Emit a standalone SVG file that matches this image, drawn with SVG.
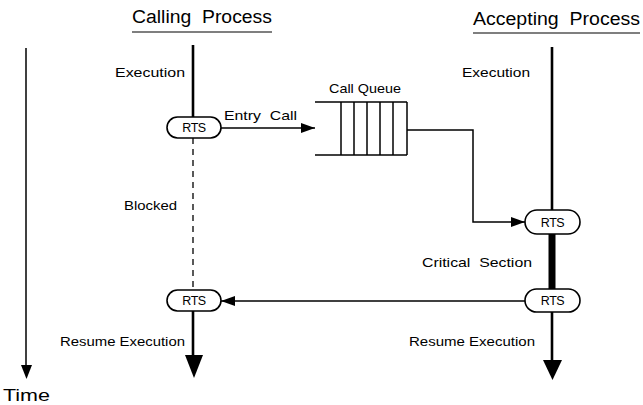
<svg xmlns="http://www.w3.org/2000/svg" width="643" height="405" viewBox="0 0 643 405">
  <defs>
    <style>
      text { font-family: "Liberation Sans", Arial, sans-serif; fill: #000; white-space: pre; }
      .title { font-size: 18px; }
      .lbl { font-size: 13px; }
      .rts { font-size: 12.5px; text-anchor: middle; letter-spacing: -0.5px; }
      .pill { fill: #fff; stroke: #000; stroke-width: 1.6; }
      .thin { fill: none; stroke: #000; stroke-width: 1.5; }
      .life { fill: none; stroke: #000; stroke-width: 2.6; }
      .head { fill: #000; stroke: none; }
    </style>
    <marker id="arrow" viewBox="0 0 14 10" refX="14" refY="5" markerWidth="14" markerHeight="10" markerUnits="userSpaceOnUse" orient="auto">
      <path class="head" d="M0,0 L14,5 L0,10 Z"/>
    </marker>
  </defs>

  <rect width="643" height="405" fill="#fff"/>

  <!-- Process headings -->
  <g id="heading-calling">
    <text class="title" x="132" y="23" textLength="140" lengthAdjust="spacingAndGlyphs" xml:space="preserve">Calling  Process</text>
    <line x1="132" y1="32" x2="272" y2="32" stroke="#000" stroke-width="1.2"/>
  </g>
  <g id="heading-accepting">
    <text class="title" x="473" y="25" textLength="167" lengthAdjust="spacingAndGlyphs" xml:space="preserve">Accepting  Process</text>
    <line x1="473" y1="33" x2="640" y2="33" stroke="#000" stroke-width="1.2"/>
  </g>

  <!-- Time axis -->
  <g id="time-axis">
    <line x1="26" y1="48" x2="26" y2="366" stroke="#000" stroke-width="1.5"/>
    <path class="head" d="M21,365 L32,365 L26.5,379 Z"/>
    <text x="3" y="401" font-size="17" textLength="47" lengthAdjust="spacingAndGlyphs">Time</text>
  </g>

  <!-- Connectors: lifelines and messages -->
  <g id="connectors">
    <!-- calling process lifeline -->
    <line class="life" x1="193" y1="45" x2="193" y2="118"/>
    <line x1="193" y1="138" x2="193" y2="290" stroke="#000" stroke-width="1.3" stroke-dasharray="6,5"/>
    <line class="life" x1="193" y1="311" x2="193" y2="357"/>
    <path class="head" d="M185,355 L203,355 L194,378 Z"/>

    <!-- accepting process lifeline -->
    <line class="life" x1="552" y1="47" x2="552" y2="210"/>
    <line x1="552" y1="234" x2="552" y2="289" stroke="#000" stroke-width="7"/>
    <line class="life" x1="552" y1="312" x2="552" y2="362"/>
    <path class="head" d="M543,360 L562,360 L552.5,380 Z"/>

    <!-- entry call into the queue -->
    <line class="thin" x1="221" y1="128" x2="315" y2="128" marker-end="url(#arrow)"/>
    <!-- queue output to the accepting RTS -->
    <polyline class="thin" points="407,130 473,130 473,222 525,222" marker-end="url(#arrow)"/>
    <!-- return to the calling RTS -->
    <line class="thin" x1="525" y1="301" x2="221" y2="301" marker-end="url(#arrow)"/>
  </g>

  <!-- Call queue -->
  <g id="call-queue">
    <text class="lbl" x="329" y="93" textLength="72" lengthAdjust="spacingAndGlyphs">Call Queue</text>
    <line class="thin" x1="315" y1="102" x2="407" y2="102"/>
    <line class="thin" x1="315" y1="155" x2="407" y2="155"/>
    <line class="thin" x1="341" y1="102" x2="341" y2="155"/>
    <line class="thin" x1="354" y1="102" x2="354" y2="155"/>
    <line class="thin" x1="367" y1="102" x2="367" y2="155"/>
    <line class="thin" x1="380" y1="102" x2="380" y2="155"/>
    <line class="thin" x1="393" y1="102" x2="393" y2="155"/>
    <line class="thin" x1="407" y1="102" x2="407" y2="155"/>
  </g>

  <!-- Run-time system nodes -->
  <g id="rts-call">
    <rect class="pill" x="167" y="117" width="54" height="21" rx="10.5"/>
    <text class="rts" x="194" y="132">RTS</text>
  </g>
  <g id="rts-resume">
    <rect class="pill" x="167" y="290" width="54" height="21" rx="10.5"/>
    <text class="rts" x="194" y="305">RTS</text>
  </g>
  <g id="rts-accept">
    <rect class="pill" x="525" y="210" width="55" height="24" rx="12"/>
    <text class="rts" x="552.5" y="226.5">RTS</text>
  </g>
  <g id="rts-release">
    <rect class="pill" x="525" y="289" width="55" height="23" rx="11.5"/>
    <text class="rts" x="552.5" y="305">RTS</text>
  </g>

  <!-- Phase labels -->
  <g id="labels">
    <text class="lbl" x="115" y="77" textLength="70" lengthAdjust="spacingAndGlyphs">Execution</text>
    <text class="lbl" x="462" y="77" textLength="68" lengthAdjust="spacingAndGlyphs">Execution</text>
    <text class="lbl" x="224" y="120" textLength="73" lengthAdjust="spacingAndGlyphs" xml:space="preserve">Entry  Call</text>
    <text class="lbl" x="124" y="210" textLength="53" lengthAdjust="spacingAndGlyphs">Blocked</text>
    <text class="lbl" x="422" y="267" textLength="110" lengthAdjust="spacingAndGlyphs" xml:space="preserve">Critical  Section</text>
    <text class="lbl" x="60" y="346" textLength="125" lengthAdjust="spacingAndGlyphs">Resume Execution</text>
    <text class="lbl" x="409" y="346" textLength="126" lengthAdjust="spacingAndGlyphs">Resume Execution</text>
  </g>
</svg>
